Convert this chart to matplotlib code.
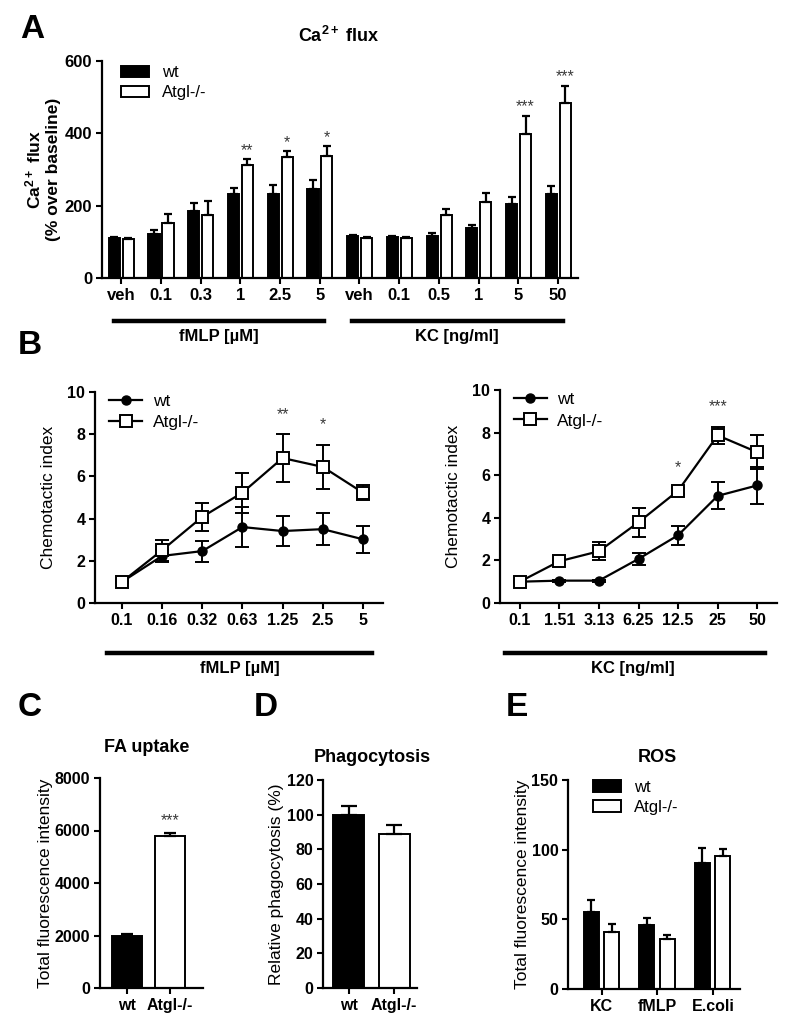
import matplotlib
matplotlib.use('Agg')
import matplotlib.pyplot as plt
from matplotlib.patches import Patch
from matplotlib.lines import Line2D
import numpy as np

plt.rcParams['font.family'] = ['Liberation Sans', 'DejaVu Sans']
plt.rcParams['mathtext.default'] = 'regular'

# --- data -------------------------------------------------------------
# A : Ca2+ flux
a_labels = ['veh', '0.1', '0.3', '1', '2.5', '5', 'veh', '0.1', '0.5', '1', '5', '50']
a_wt = [110, 122, 185, 232, 232, 246, 115, 112, 117, 138, 204, 231]
a_wt_err = [3, 10, 22, 18, 25, 26, 3, 3, 8, 8, 19, 22]
a_ko = [108, 153, 175, 313, 335, 338, 110, 111, 174, 211, 398, 484]
a_ko_err = [3, 23, 37, 16, 16, 26, 3, 3, 17, 23, 51, 48]
a_stars = ['', '', '', '**', '*', '*', '', '', '', '', '***', '***']

# B : chemotaxis
b1_labels = ['0.1', '0.16', '0.32', '0.63', '1.25', '2.5', '5']
b1_wt = [1.0, 2.23, 2.46, 3.6, 3.41, 3.5, 3.02]
b1_wt_err = [0.05, 0.3, 0.5, 0.95, 0.72, 0.75, 0.65]
b1_ko = [1.0, 2.5, 4.08, 5.23, 6.87, 6.45, 5.23]
b1_ko_err = [0.05, 0.5, 0.65, 0.95, 1.12, 1.05, 0.35]
b1_stars = ['', '', '', '', '**', '*', '']

b2_labels = ['0.1', '1.51', '3.13', '6.25', '12.5', '25', '50']
b2_wt = [1.0, 1.05, 1.05, 2.07, 3.18, 5.03, 5.52]
b2_wt_err = [0.05, 0.05, 0.05, 0.28, 0.45, 0.64, 0.88]
b2_ko = [1.0, 1.96, 2.43, 3.79, 5.27, 7.87, 7.08]
b2_ko_err = [0.05, 0.08, 0.43, 0.68, 0.15, 0.4, 0.8]
b2_stars = ['', '', '', '', '*', '***', '']

# C : FA uptake, D : phagocytosis
geno = ['wt', 'Atgl-/-']
c_vals = [2000, 5803]
c_err = [70, 100]
d_vals = [100, 89]
d_err = [5, 4.8]

# E : ROS
e_labels = ['KC', 'fMLP', 'E.coli']
e_wt = [55.6, 46, 90.2]
e_wt_err = [8.4, 5, 10.8]
e_ko = [40.8, 35.8, 95.7]
e_ko_err = [5.7, 2.8, 4.5]

W, H = 800, 1030
fig = plt.figure(figsize=(W / 100, H / 100), dpi=100)


def box(l, t, r, b):
    return [l / W, 1 - b / H, (r - l) / W, (b - t) / H]


def style(ax, tick_size=11.5):
    for s in ['top', 'right']:
        ax.spines[s].set_visible(False)
    for s in ['left', 'bottom']:
        ax.spines[s].set_linewidth(1.6)
    ax.tick_params(width=1.5, length=4, pad=3, labelsize=tick_size)
    for t in ax.get_xticklabels() + ax.get_yticklabels():
        t.set_fontweight('bold')


def ftext(x, y, s, **kw):
    fig.text(x / W, 1 - y / H, s, **kw)


def fline(x1, x2, y):
    fig.add_artist(Line2D([x1 / W, x2 / W], [1 - y / H, 1 - y / H],
                          transform=fig.transFigure, color='black', lw=3.2))


def bar_legend(ax, anchor):
    ax.legend(handles=[Patch(facecolor='black', edgecolor='black', lw=1.4),
                       Patch(facecolor='white', edgecolor='black', lw=1.4)],
              labels=['wt', 'Atgl-/-'], loc='upper left',
              bbox_to_anchor=anchor, frameon=False, fontsize=12,
              handlelength=1.7, handleheight=0.7, handletextpad=0.75,
              labelspacing=0.3, borderpad=0, borderaxespad=0)


ekw = dict(elinewidth=1.6, capthick=1.6)
star_col = '#3a3a3a'

# --- A ----------------------------------------------------------------
ax = fig.add_axes(box(102, 61, 578, 278))
x = np.arange(len(a_labels))
bw = 0.28
ax.bar(x - 0.17, a_wt, bw, color='black', edgecolor='black', lw=1.4,
       yerr=[np.zeros(len(x)), a_wt_err], capsize=3, error_kw=ekw)
ax.bar(x + 0.18, a_ko, bw, color='white', edgecolor='black', lw=1.4,
       yerr=[np.zeros(len(x)), a_ko_err], capsize=3, error_kw=ekw)
for i, s in enumerate(a_stars):
    if s:
        ax.text(x[i] + 0.18, a_ko[i] + a_ko_err[i] + 24, s, ha='center',
                va='center', fontsize=11.5, color=star_col)
ax.set_xlim(-0.48, 11.5)
ax.set_ylim(0, 600)
ax.set_yticks([0, 200, 400, 600])
ax.set_xticks(x)
ax.set_xticklabels(a_labels)
ax.set_ylabel('Ca$^{2+}$ flux\n(% over baseline)', fontsize=12.5,
              fontweight='bold', labelpad=3)
style(ax, 12)
bar_legend(ax, (0.04, 0.98))
ftext(339, 36, 'Ca$^{2+}$ flux', ha='center', va='center', fontsize=13,
      fontweight='bold')
ftext(32, 30, 'A', ha='center', va='center', fontsize=24, fontweight='bold')
fline(114, 324, 321)
fline(352, 563, 321)
ftext(219, 337, 'fMLP [µM]', ha='center', va='center', fontsize=12,
      fontweight='bold')
ftext(457, 337, 'KC [ng/ml]', ha='center', va='center', fontsize=12,
      fontweight='bold')


# --- B ----------------------------------------------------------------
def chemo(rect, labels, wt, wt_err, ko, ko_err, stars, xlim):
    ax = fig.add_axes(box(*rect))
    xx = np.arange(len(labels))
    ax.errorbar(xx, wt, yerr=wt_err, color='black', lw=1.6, marker='o',
                ms=6.5, capsize=5, elinewidth=1.4, capthick=1.4, zorder=3)
    ax.errorbar(xx, ko, yerr=ko_err, color='black', lw=1.6, marker='s',
                ms=8, mfc='white', mew=1.4, capsize=5, elinewidth=1.4,
                capthick=1.4, zorder=4)
    for i, s in enumerate(stars):
        if s:
            ax.text(xx[i], ko[i] + ko_err[i] + 0.95, s, ha='center',
                    va='center', fontsize=11.5, color=star_col)
    ax.set_xlim(*xlim)
    ax.set_ylim(0, 10)
    ax.set_yticks([0, 2, 4, 6, 8, 10])
    ax.set_xticks(xx)
    ax.set_xticklabels(labels)
    ax.set_ylabel('Chemotactic index', fontsize=12.5, labelpad=8)
    style(ax, 11.5)
    hs = [Line2D([], [], color='black', lw=1.6, marker='o', ms=6.5),
          Line2D([], [], color='black', lw=1.6, marker='s', ms=8,
                 mfc='white', mew=1.4)]
    ax.legend(hs, ['wt', 'Atgl-/-'], loc='upper left',
              bbox_to_anchor=(0.05, 0.99), frameon=False,
              fontsize=12.5, handlelength=1.9, handletextpad=0.6,
              labelspacing=0.35, borderpad=0, borderaxespad=0)
    return ax


chemo((95, 392, 383, 603), b1_labels, b1_wt, b1_wt_err, b1_ko, b1_ko_err,
      b1_stars, (-0.67, 6.5))
chemo((500, 390, 777, 603), b2_labels, b2_wt, b2_wt_err, b2_ko, b2_ko_err,
      b2_stars, (-0.5, 6.5))
ftext(30, 345, 'B', ha='center', va='center', fontsize=24, fontweight='bold')
fline(107, 372, 653)
fline(505, 765, 653)
ftext(240, 669, 'fMLP [µM]', ha='center', va='center', fontsize=12,
      fontweight='bold')
ftext(633, 669, 'KC [ng/ml]', ha='center', va='center', fontsize=12,
      fontweight='bold')

# --- C ----------------------------------------------------------------
ax = fig.add_axes(box(100, 778, 203, 988))
ax.bar([0, 1], c_vals, 0.7, color=['black', 'white'], edgecolor='black',
       lw=1.4, yerr=[[0, 0], c_err], capsize=4, error_kw=ekw)
ax.text(1, c_vals[1] + c_err[1] + 480, '***', ha='center', va='center',
        fontsize=11.5, color=star_col)
ax.set_xlim(-0.63, 1.77)
ax.set_ylim(0, 8000)
ax.set_yticks([0, 2000, 4000, 6000, 8000])
ax.set_xticks([0, 1])
ax.set_xticklabels(geno)
ax.set_ylabel('Total fluorescence intensity', fontsize=12.5, labelpad=1)
style(ax, 11.5)
ftext(147, 748, 'FA uptake', ha='center', va='center', fontsize=13,
      fontweight='bold')
ftext(30, 708, 'C', ha='center', va='center', fontsize=24, fontweight='bold')

# --- D ----------------------------------------------------------------
ax = fig.add_axes(box(323, 780, 417, 988))
ax.bar([0, 1], d_vals, 0.68, color=['black', 'white'], edgecolor='black',
       lw=1.4, yerr=[[0, 0], d_err], capsize=6, error_kw=ekw)
ax.set_xlim(-0.56, 1.5)
ax.set_ylim(0, 120)
ax.set_yticks([0, 20, 40, 60, 80, 100, 120])
ax.set_xticks([0, 1])
ax.set_xticklabels(geno)
ax.set_ylabel('Relative phagocytosis (%)', fontsize=12.5, labelpad=2)
style(ax, 11.5)
ftext(372, 758, 'Phagocytosis', ha='center', va='center', fontsize=13,
      fontweight='bold')
ftext(266, 708, 'D', ha='center', va='center', fontsize=24, fontweight='bold')

# --- E ----------------------------------------------------------------
ax = fig.add_axes(box(568, 780, 740, 989))
xe = np.arange(len(e_labels))
ax.bar(xe - 0.19, e_wt, 0.27, color='black', edgecolor='black', lw=1.4,
       yerr=[np.zeros(3), e_wt_err], capsize=3, error_kw=ekw)
ax.bar(xe + 0.18, e_ko, 0.27, color='white', edgecolor='black', lw=1.4,
       yerr=[np.zeros(3), e_ko_err], capsize=3, error_kw=ekw)
ax.set_xlim(-0.61, 2.49)
ax.set_ylim(0, 150)
ax.set_yticks([0, 50, 100, 150])
ax.set_xticks(xe)
ax.set_xticklabels(e_labels)
ax.set_ylabel('Total fluorescence intensity', fontsize=12.5, labelpad=1)
style(ax, 11.5)
bar_legend(ax, (0.145, 1.0))
ftext(657, 758, 'ROS', ha='center', va='center', fontsize=13,
      fontweight='bold')
ftext(517, 708, 'E', ha='center', va='center', fontsize=24, fontweight='bold')

fig.savefig('out.png', dpi=100, facecolor='white')
